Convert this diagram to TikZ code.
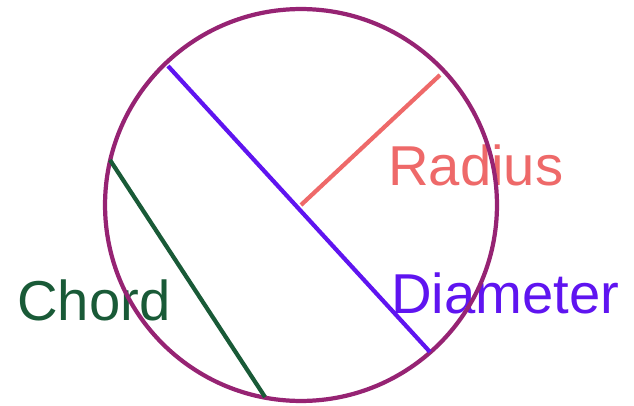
\documentclass[tikz,border=0pt]{standalone}
\usepackage{fontspec}
\setmainfont{Liberation Sans}
\definecolor{rim}{RGB}{150,35,115}
\definecolor{diam}{RGB}{95,20,240}
\definecolor{rad}{RGB}{238,105,105}
\definecolor{chd}{RGB}{25,90,55}
\tikzset{lbl/.style={anchor=base west,inner sep=0pt,font=\fontsize{32}{38}\selectfont}}
\begin{document}
\begin{tikzpicture}[x=0.02cm,y=-0.02cm]
    \useasboundingbox (0,0) rectangle (634,405);
    \coordinate (O) at (301,205);
    \coordinate (d1) at (168,66);
    \coordinate (d2) at (430,352);
    \coordinate (r1) at (440,75);
    \coordinate (c1) at (110,160);
    \coordinate (c2) at (265,397);
    \node[lbl,text=rad] (radlbl) at (388,185) {Radius};
    \node[lbl,text=chd] (chdlbl) at (17,320) {Chord};
    \node[lbl,text=diam] (diamlbl) at (391,313) {Diameter};
    \draw[rim,line width=2.4pt] (O) circle[radius=3.92cm];
    \draw[diam,line width=2.4pt] (d1) -- (d2);
    \draw[rad,line width=2.4pt] (O) -- (r1);
    \draw[chd,line width=2.4pt] (c1) -- (c2);
\end{tikzpicture}
\end{document}
